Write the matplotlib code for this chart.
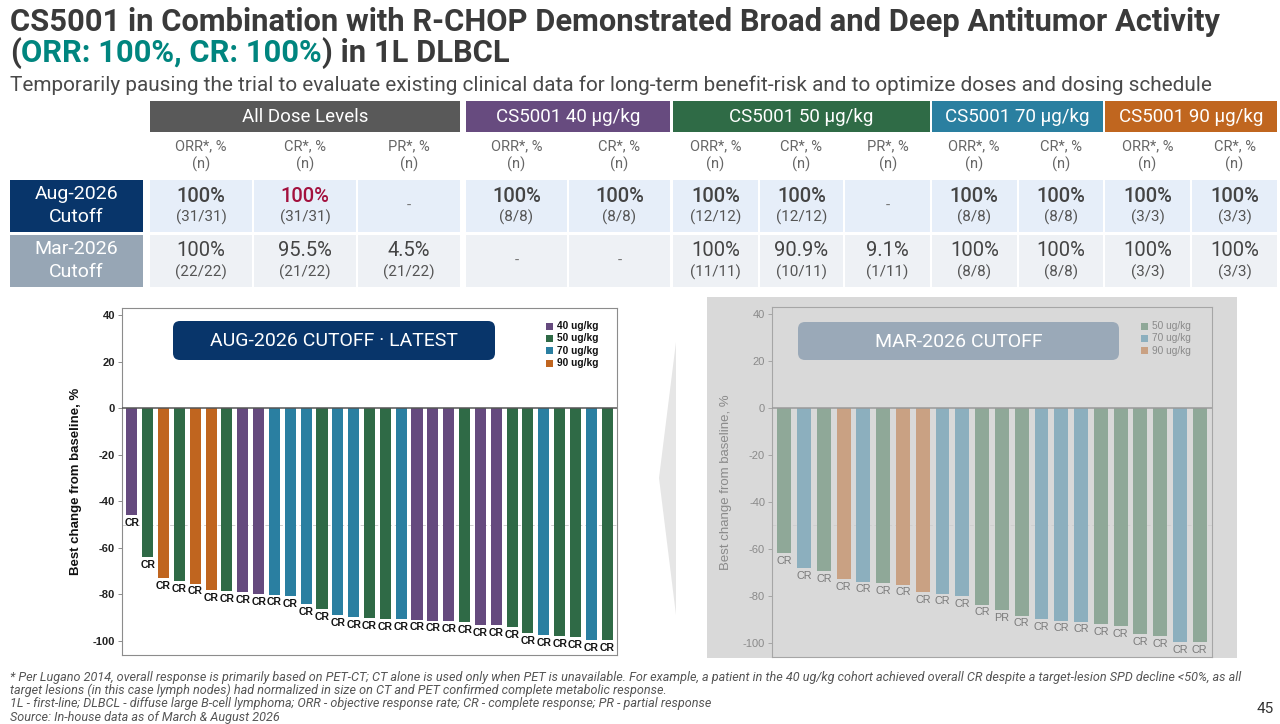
import matplotlib
matplotlib.use("Agg")
import matplotlib.pyplot as plt
from matplotlib.patches import Rectangle, FancyBboxPatch, Polygon
import numpy as np

# ---------------- DATA ----------------
aug_values = [-46.0, -64.0, -73.0, -74.3, -75.3, -78.2, -78.7, -79.0, -80.0, -80.1, -80.7,
              -84.3, -86.2, -88.8, -89.8, -90.1, -90.5, -90.5, -90.8, -91.2, -91.6, -91.9,
              -93.0, -93.3, -94.0, -96.6, -97.3, -98.0, -98.3, -99.7, -99.7]
aug_doses = [40, 50, 90, 50, 90, 90, 50, 40, 40, 70, 70, 70, 50, 70, 70, 50, 50, 70, 40, 40,
             40, 50, 40, 40, 50, 50, 70, 50, 50, 70, 50]
aug_resp = ["CR"] * 31

mar_values = [-61.7, -68.1, -69.5, -73.0, -73.9, -74.5, -75.2, -78.2, -79.0, -80.1, -83.7,
              -86.2, -88.4, -89.8, -90.5, -90.9, -91.9, -93.0, -96.2, -97.2, -99.7, -99.7]
mar_doses = [50, 70, 50, 90, 70, 50, 90, 90, 70, 70, 50, 50, 50, 70, 70, 70, 50, 50, 50, 50, 70, 50]
mar_resp = ["CR"] * 11 + ["PR"] + ["CR"] * 10

aug_legend = ["40 ug/kg", "50 ug/kg", "70 ug/kg", "90 ug/kg"]
mar_legend = ["50 ug/kg", "70 ug/kg", "90 ug/kg"]
yticks = [40, 20, 0, -20, -40, -60, -80, -100]

groups = ["All Dose Levels", "CS5001 40 \u00b5g/kg", "CS5001 50 \u00b5g/kg",
          "CS5001 70 \u00b5g/kg", "CS5001 90 \u00b5g/kg"]
group_metrics = [["ORR*, %", "CR*, %", "PR*, %"], ["ORR*, %", "CR*, %"],
                 ["ORR*, %", "CR*, %", "PR*, %"], ["ORR*, %", "CR*, %"], ["ORR*, %", "CR*, %"]]
row_labels = ["Aug-2026\nCutoff", "Mar-2026\nCutoff"]
aug_row = [("100%", "(31/31)"), ("100%", "(31/31)"), ("-", ""), ("100%", "(8/8)"), ("100%", "(8/8)"),
           ("100%", "(12/12)"), ("100%", "(12/12)"), ("-", ""), ("100%", "(8/8)"), ("100%", "(8/8)"),
           ("100%", "(3/3)"), ("100%", "(3/3)")]
mar_row = [("100%", "(22/22)"), ("95.5%", "(21/22)"), ("4.5%", "(21/22)"), ("-", ""), ("-", ""),
           ("100%", "(11/11)"), ("90.9%", "(10/11)"), ("9.1%", "(1/11)"), ("100%", "(8/8)"),
           ("100%", "(8/8)"), ("100%", "(3/3)"), ("100%", "(3/3)")]

title1 = "CS5001 in Combination with R-CHOP Demonstrated Broad and Deep Antitumor Activity"
title2_parts = ["(", "ORR: 100%, CR: 100%", ") in 1L DLBCL"]
subtitle = ("Temporarily pausing the trial to evaluate existing clinical data for long-term "
            "benefit-risk and to optimize doses and dosing schedule")
footnotes = [
    "* Per Lugano 2014, overall response is primarily based on PET-CT; CT alone is used only when PET is "
    "unavailable. For example, a patient in the 40 ug/kg cohort achieved overall CR despite a target-lesion "
    "SPD decline <50%, as all",
    "target lesions (in this case lymph nodes) had normalized in size on CT and PET confirmed complete "
    "metabolic response.",
    "1L - first-line; DLBCL - diffuse large B-cell lymphoma; ORR - objective response rate; CR - complete "
    "response; PR - partial response",
    "Source: In-house data as of March & August 2026",
]
page_no = "45"

# ---------------- STYLE ----------------
SF = "Roboto"
CF = "Liberation Sans"
group_colors = ["#595959", "#674b7f", "#2f6b46", "#2a7fa0", "#c0661f"]
dose_colors = {40: "#654a7e", 50: "#2f6a46", 70: "#2a7fa1", 90: "#c0651f"}
mar_colors = {50: "#8fa898", 70: "#8cafbe", 90: "#c9a183"}

fig = plt.figure(figsize=(12.8, 7.24), dpi=100)
fig.patch.set_facecolor("white")
bg = fig.add_axes([0, 0, 1, 1])
bg.set_xlim(0, 1280)
bg.set_ylim(724, 0)
bg.axis("off")
R = fig.canvas.get_renderer()


def width_of(t):
    return t.get_window_extent(R).width


def fit(t, w):
    t.set_fontsize(t.get_fontsize() * w / width_of(t))
    return t


# ---------------- TITLES ----------------
t1 = bg.text(10, 31, title1, fontsize=22, fontweight="bold", family=SF, color="#3a3a3a",
             va="baseline", ha="left")
fit(t1, 1207)
fs = t1.get_fontsize()
colors2 = ["#3a3a3a", "#00857f", "#3a3a3a"]
prefix = ""
for part, c in zip(title2_parts, colors2):
    if prefix:
        tmp = bg.text(10, 62, prefix, fontsize=fs, fontweight="bold", family=SF)
        xo = 10 + width_of(tmp)
        tmp.remove()
    else:
        xo = 10
    bg.text(xo, 62, part, fontsize=fs, fontweight="bold", family=SF, color=c, va="baseline", ha="left")
    prefix += part

ts = bg.text(10, 91, subtitle, fontsize=14, family=SF, color="#4a4a4a", va="baseline", ha="left")
fit(ts, 1207)

# ---------------- TABLE ----------------
group_spans = [(150, 460), (466, 670), (673, 930), (932, 1103), (1105, 1277)]
col_spans = []
for (a, b), mets in zip(group_spans, group_metrics):
    n = len(mets)
    w = (b - a) / n
    for k in range(n):
        col_spans.append((a + k * w + (1 if k > 0 else 0), a + (k + 1) * w - (1 if k < n - 1 else 0)))

for (a, b), name, c in zip(group_spans, groups, group_colors):
    bg.add_patch(Rectangle((a, 101), b - a, 31, color=c, lw=0))
    bg.text((a + b) / 2, 117, name, color="white", fontsize=13.5, family=SF, ha="center", va="center")

metrics_flat = [m for ms in group_metrics for m in ms]
for (a, b), m in zip(col_spans, metrics_flat):
    cx = (a + b) / 2
    bg.text(cx, 146, m, fontsize=10.5, family=SF, color="#666666", ha="center", va="center")
    bg.text(cx, 164, "(n)", fontsize=10.5, family=SF, color="#666666", ha="center", va="center")

row_y = [(180, 232), (235, 287)]
label_bg = ["#08356a", "#97a6b5"]
cell_bg = ["#e6eef9", "#eef1f5"]
rows = [aug_row, mar_row]
for ri, ((ya, yb), lab) in enumerate(zip(row_y, row_labels)):
    bg.add_patch(Rectangle((10, ya), 133, yb - ya, color=label_bg[ri], lw=0))
    l1, l2 = lab.split("\n")
    bg.text(76.5, ya + 14, l1, color="white", fontsize=14, family=SF, ha="center", va="center")
    bg.text(76.5, ya + 37, l2, color="white", fontsize=14, family=SF, ha="center", va="center")
    for ci, ((a, b), (v, sub)) in enumerate(zip(col_spans, rows[ri])):
        bg.add_patch(Rectangle((a, ya), b - a, yb - ya, color=cell_bg[ri], lw=0))
        cx = (a + b) / 2
        if v == "-":
            bg.text(cx, (ya + yb) / 2, "-", fontsize=11, family=SF, color="#777777",
                    ha="center", va="center")
            continue
        col = "#444444"
        wt = "medium" if ri == 0 else "normal"
        if ri == 0 and ci == 1:
            col = "#a3103d"
        bg.text(cx, ya + 16, v, fontsize=14.5, family=SF, fontweight=wt, color=col,
                ha="center", va="center")
        bg.text(cx, ya + 37, sub, fontsize=11, family=SF, color="#555555",
                ha="center", va="center")

# ---------------- PANELS ----------------
bg.add_patch(Rectangle((707, 297), 530, 361, color="#d9d9d9", lw=0))
bg.add_patch(Polygon([(676, 342), (659, 478), (676, 615)], closed=True, color="#e6e6e6", lw=0))


def px_axes(xa, ya, xb, yb):
    return fig.add_axes([xa / 1280, 1 - yb / 724, (xb - xa) / 1280, (yb - ya) / 724])


def waterfall(ax, values, doses, resp, cmap, face, spine, tickc, bold, labc, labfs, ylab_c, zc):
    x = np.arange(len(values))
    ax.set_facecolor(face)
    ax.bar(x, values, width=0.7, color=[cmap[d] for d in doses], zorder=2, lw=0)
    ax.set_xlim(-0.62, len(values) - 0.38)
    ax.set_ylim(-106, 43)
    ax.axhline(0, color=zc, lw=1.1, zorder=3)
    ax.axhline(-50, color="#cfcfcf", lw=0.7, ls=(0, (4, 3)), zorder=1)
    ax.set_xticks([])
    ax.set_yticks(yticks)
    ax.set_yticklabels([str(v) for v in yticks], fontsize=8, family=CF,
                       fontweight="bold" if bold else "normal", color=tickc)
    ax.tick_params(axis="y", length=3, width=0.7, color=spine, pad=2)
    for s in ax.spines.values():
        s.set_color(spine)
        s.set_linewidth(0.8)
    ax.set_ylabel("Best change from baseline, %", fontsize=9.5, family=CF,
                  fontweight="bold" if bold else "normal", color=ylab_c, labelpad=8)
    for xi, v, r in zip(x, values, resp):
        ax.text(xi, v - 1.2, r, ha="center", va="top", fontsize=labfs, family=CF,
                fontweight="bold" if bold else "normal", color=labc, zorder=4)


ax1 = px_axes(122, 308, 617, 655)
waterfall(ax1, aug_values, aug_doses, aug_resp, dose_colors, "white", "#8c8c8c", "#222222",
          True, "#111111", 7.5, "#111111", "#555555")
ax2 = px_axes(772, 307, 1212, 657)
waterfall(ax2, mar_values, mar_doses, mar_resp, mar_colors, "#d9d9d9", "#a6a6a6", "#8a8a8a",
          False, "#7a7a7a", 7.8, "#8a8a8a", "#9a9a9a")

T = bg.transData
# title boxes
for ax, (xa, ya, xb, yb), txt, c in [
        (ax1, (173, 321, 495, 360), "AUG-2026 CUTOFF \u00b7 LATEST", "#08356a"),
        (ax2, (798, 322, 1119, 360), "MAR-2026 CUTOFF", "#9aa9b8")]:
    p = FancyBboxPatch((xa, ya), xb - xa, yb - ya, boxstyle="round,pad=0,rounding_size=7",
                       color=c, lw=0, transform=T, clip_on=False, zorder=5)
    ax.add_patch(p)
    ax.text((xa + xb) / 2, (ya + yb) / 2 + 1, txt, transform=T, color="white", fontsize=14,
            family=SF, ha="center", va="center", zorder=6)

# legends
for ax, labels, doses, cmap, xs, bold, tc in [
        (ax1, aug_legend, [40, 50, 70, 90], dose_colors, 546, True, "#111111"),
        (ax2, mar_legend, [50, 70, 90], mar_colors, 1141, False, "#8a8a8a")]:
    for i, (lab, d) in enumerate(zip(labels, doses)):
        yy = 326 + i * 12.4
        ax.add_patch(Rectangle((xs, yy - 3.5), 7, 7, color=cmap[d], lw=0, transform=T,
                               clip_on=False, zorder=5))
        ax.text(xs + 11, yy, lab, transform=T, fontsize=7.3, family=CF,
                fontweight="bold" if bold else "normal", color=tc, ha="left", va="center", zorder=5)

# ---------------- FOOTNOTES ----------------
fy = [677, 690, 704, 717]
fts = []
for y, line in zip(fy, footnotes):
    fts.append(bg.text(10, y, line, fontsize=7.5, family=SF, style="italic", color="#555555",
                       ha="left", va="center"))
fit(fts[0], 1220)
for t in fts[1:]:
    t.set_fontsize(fts[0].get_fontsize())
bg.text(1265, 709, page_no, fontsize=11, family=SF, color="#333333", ha="center", va="center")

fig.savefig("out.png", dpi=100)
